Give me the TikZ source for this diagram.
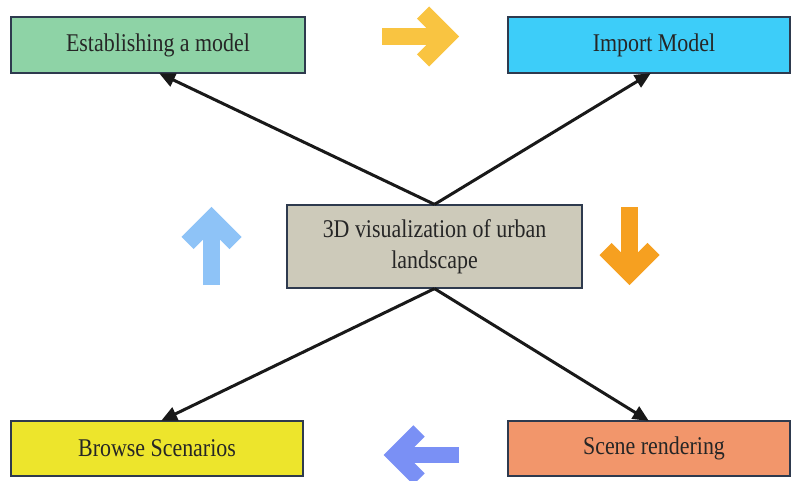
\documentclass[tikz,border=0pt]{standalone}
\usepackage{fontspec}
\setmainfont{Liberation Serif}[FakeStretch=0.86]
\usetikzlibrary{arrows.meta}
\definecolor{estc}{HTML}{8ED3A6}
\definecolor{impc}{HTML}{3DCDF9}
\definecolor{cenc}{HTML}{CDCABA}
\definecolor{broc}{HTML}{EDE52C}
\definecolor{scec}{HTML}{F2966B}
\definecolor{bordc}{HTML}{2E3A4E}
\definecolor{yarr}{HTML}{F9C441}
\definecolor{lbarr}{HTML}{8EC3F7}
\definecolor{oarr}{HTML}{F6A020}
\definecolor{barr}{HTML}{7A90F5}
\tikzset{
  boxnode/.style={draw=bordc, line width=1.2pt, inner sep=0pt, align=center,
    font=\fontsize{25.5}{31}\selectfont, text=black!85},
  conn/.style={draw=black!90, line width=3pt, -{Triangle[length=16pt,width=14pt]}, shorten >=-1pt},
  bigarrow/.style={line width=17pt, line join=miter, line cap=butt}
}
\begin{document}
\begin{tikzpicture}[x=1pt,y=-1pt]
\useasboundingbox (0,0) rectangle (791,481);
% boxes
\node[boxnode, fill=estc, minimum width=294pt, minimum height=56pt] (est) at (158,45) {Establishing a model};
\node[boxnode, fill=impc, minimum width=282pt, minimum height=56pt] (imp) at (649,45) {\hspace*{10pt}Import Model};
\node[boxnode, fill=cenc, minimum width=295pt, minimum height=83pt] (cen) at (434.5,246.5) {3D visualization of urban\\landscape};
\node[boxnode, fill=broc, minimum width=292pt, minimum height=55pt] (bro) at (157,448.5) {Browse Scenarios};
\node[boxnode, fill=scec, minimum width=282pt, minimum height=55pt] (sce) at (649,448.5) {\hspace*{10pt}Scene rendering};
% connectors
\draw[conn] (cen.north) -- ([xshift=2pt]est.south);
\draw[conn] (cen.north) -- ([xshift=1pt]imp.south);
\draw[conn] (cen.south) -- ([xshift=5pt]bro.south |- bro.north);
\draw[conn] (cen.south) -- ([xshift=-1pt]sce.north);
% block arrows
\draw[bigarrow, yarr] (382,36.5) -- (447,36.5);
\draw[bigarrow, yarr] (423,12.5) -- (447,36.5) -- (423,60.5);
\draw[bigarrow, lbarr] (211.5,285) -- (211.5,219);
\draw[bigarrow, lbarr] (187.5,243) -- (211.5,219) -- (235.5,243);
\draw[bigarrow, oarr] (629.5,207) -- (629.5,273);
\draw[bigarrow, oarr] (605.5,249) -- (629.5,273) -- (653.5,249);
\draw[bigarrow, barr, line width=16pt] (459,455) -- (395,455);
\draw[bigarrow, barr, line width=16pt] (419,431) -- (395,455) -- (419,479);
\end{tikzpicture}
\end{document}
